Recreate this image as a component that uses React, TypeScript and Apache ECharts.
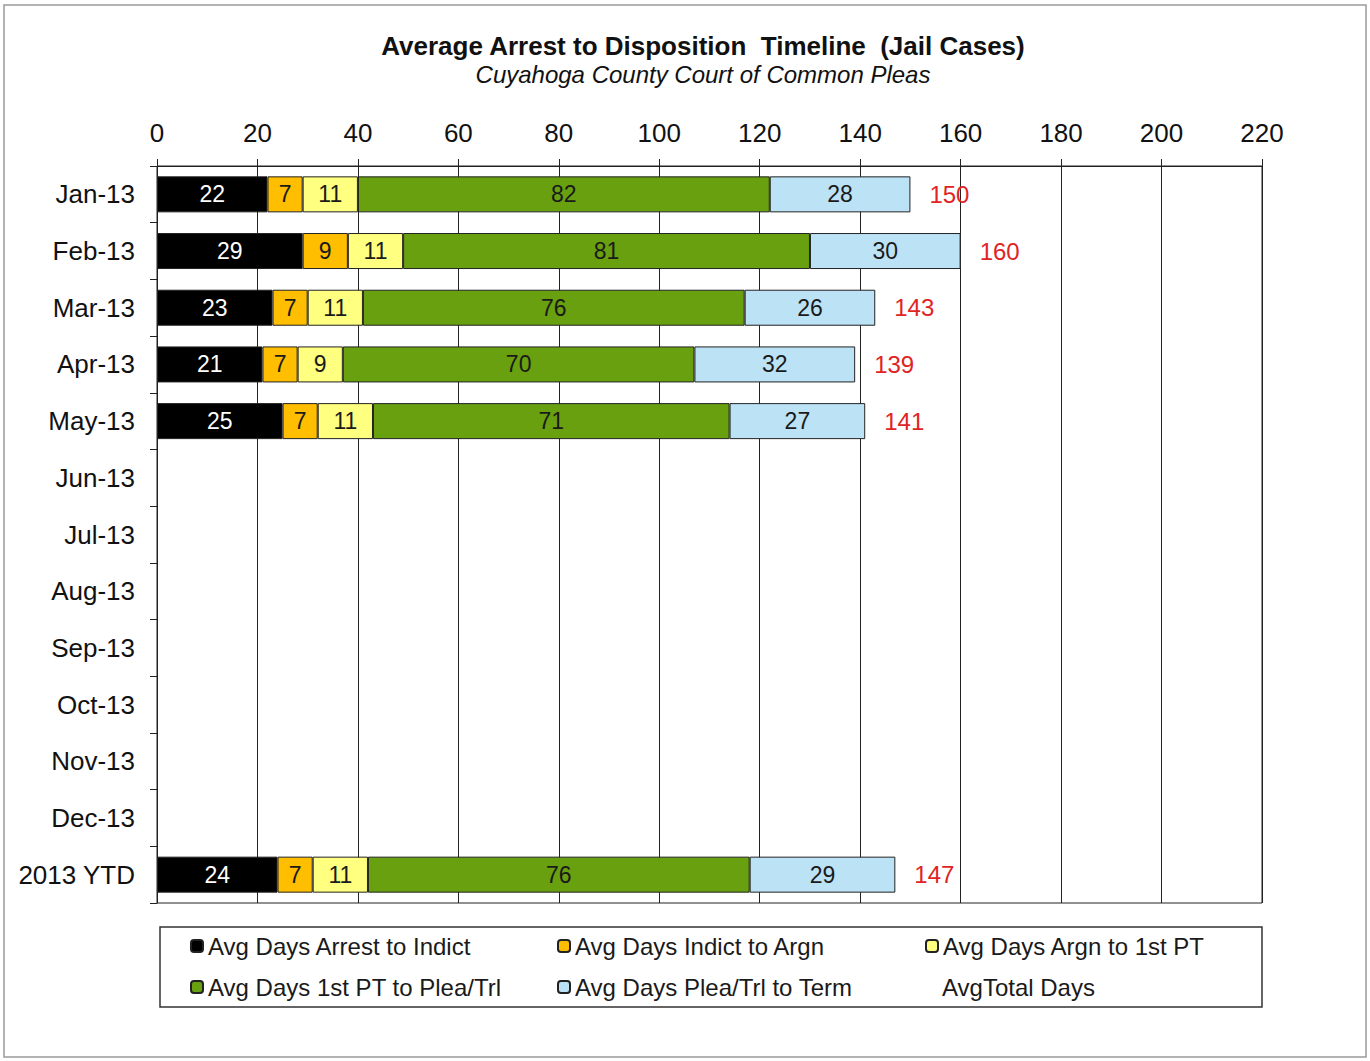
import React, { useEffect, useRef } from "react";
import * as echarts from "echarts";

const categories = ["Jan-13", "Feb-13", "Mar-13", "Apr-13", "May-13", "Jun-13", "Jul-13", "Aug-13", "Sep-13", "Oct-13", "Nov-13", "Dec-13", "2013 YTD"];
const arrestToIndict = [22, 29, 23, 21, 25, "-", "-", "-", "-", "-", "-", "-", 24];
const indictToArgn = [7, 9, 7, 7, 7, "-", "-", "-", "-", "-", "-", "-", 7];
const argnTo1stPT = [11, 11, 11, 9, 11, "-", "-", "-", "-", "-", "-", "-", 11];
const firstPTToPlea = [82, 81, 76, 70, 71, "-", "-", "-", "-", "-", "-", "-", 76];
const pleaToTerm = [28, 30, 26, 32, 27, "-", "-", "-", "-", "-", "-", "-", 29];
const totalDays = [150, 160, 143, 139, 141, "-", "-", "-", "-", "-", "-", "-", 147];
const xTicks = { min: 0, max: 220, interval: 20 };

const FONT = '"Liberation Sans", Arial, sans-serif';

const segSeries = [
  { name: "Avg Days Arrest to Indict", data: arrestToIndict, color: "#000000", label: "#ffffff" },
  { name: "Avg Days Indict to Argn", data: indictToArgn, color: "#FFBE00", label: "#1a1a1a" },
  { name: "Avg Days Argn to 1st PT", data: argnTo1stPT, color: "#FFFF80", label: "#1a1a1a" },
  { name: "Avg Days 1st PT to Plea/Trl", data: firstPTToPlea, color: "#68A010", label: "#1a1a1a" },
  { name: "Avg Days Plea/Trl to Term", data: pleaToTerm, color: "#BCE2F6", label: "#1a1a1a" },
];
const totalName = "AvgTotal Days";
const legendNames = [...segSeries.map((s) => s.name), totalName];

export default function App() {
  const ref = useRef<HTMLDivElement>(null);
  useEffect(() => {
    if (!ref.current) return;
    const chart = echarts.init(ref.current, undefined, { renderer: "svg" });
    const series: any[] = segSeries.map((s) => ({
      name: s.name,
      type: "bar",
      stack: "total",
      data: s.data,
      barWidth: 36,
      barGap: "-100%",
      itemStyle: { color: s.color, borderColor: "#222", borderWidth: 1 },
      label: {
        show: true,
        position: "inside",
        color: s.label,
        fontSize: 23,
        fontFamily: FONT,
      },
    }));
    series.push({
      name: totalName,
      type: "bar",
      data: totalDays,
      barWidth: 36,
      barGap: "-100%",
      z: 1,
      itemStyle: { color: "rgba(0,0,0,0)", borderWidth: 0 },
      label: {
        show: true,
        position: "right",
        distance: 19,
        color: "#E02424",
        fontSize: 24,
        fontFamily: FONT,
      },
    });
    const colX = [190, 557, 925];
    const rowY = [934, 975];
    const legends = legendNames.map((name, i) => ({
      orient: "horizontal",
      itemWidth: 12,
      itemHeight: 12,
      itemGap: 0,
      padding: 0,
      left: colX[i % 3],
      top: rowY[Math.floor(i / 3)],
      data: [name],
      textStyle: { fontSize: 24, fontFamily: FONT, color: "#1a1a1a" },
    }));
    chart.setOption({
      animation: false,
      backgroundColor: "#ffffff",
      textStyle: { fontFamily: FONT },
      grid: {
        left: 157,
        top: 166,
        width: 1105,
        height: 737,
        show: true,
        borderColor: "#222",
        borderWidth: 1,
        containLabel: false,
      },
      xAxis: {
        type: "value",
        position: "top",
        min: xTicks.min,
        max: xTicks.max,
        interval: xTicks.interval,
        axisLine: { show: true, lineStyle: { color: "#222", width: 1 } },
        axisTick: { show: true, length: 7, lineStyle: { color: "#222" } },
        axisLabel: { fontSize: 26, color: "#111", margin: 20, fontFamily: FONT },
        splitLine: { show: true, lineStyle: { color: "#222", width: 1 } },
      },
      yAxis: {
        type: "category",
        inverse: true,
        data: categories,
        axisLine: { show: true, lineStyle: { color: "#222", width: 1 } },
        axisTick: { show: true, length: 7, alignWithLabel: false, lineStyle: { color: "#222" } },
        axisLabel: { fontSize: 26, color: "#111", margin: 22, fontFamily: FONT },
      },
      legend: legends,
      graphic: [
        {
          type: "rect",
          shape: { x: 4, y: 5, width: 1362, height: 1052 },
          style: { fill: "none", stroke: "#9a9a9a", lineWidth: 1.5 },
          silent: true,
        },
        {
          type: "rect",
          shape: { x: 160, y: 927, width: 1102, height: 80 },
          style: { fill: "none", stroke: "#333", lineWidth: 1.5 },
          silent: true,
        },
        {
          type: "text",
          x: 703,
          y: 46,
          style: {
            text: "Average Arrest to Disposition  Timeline  (Jail Cases)",
            font: `bold 26px ${FONT}`,
            fill: "#111",
            align: "center",
            verticalAlign: "middle",
          },
        },
        {
          type: "text",
          x: 703,
          y: 74,
          style: {
            text: "Cuyahoga County Court of Common Pleas",
            font: `italic 24px ${FONT}`,
            fill: "#111",
            align: "center",
            verticalAlign: "middle",
          },
        },
      ],
      series,
    });
    return () => chart.dispose();
  }, []);
  return (
    <div
      ref={ref}
      style={{ position: "absolute", left: 0, top: 0, width: 1370, height: 1061 }}
    />
  );
}
